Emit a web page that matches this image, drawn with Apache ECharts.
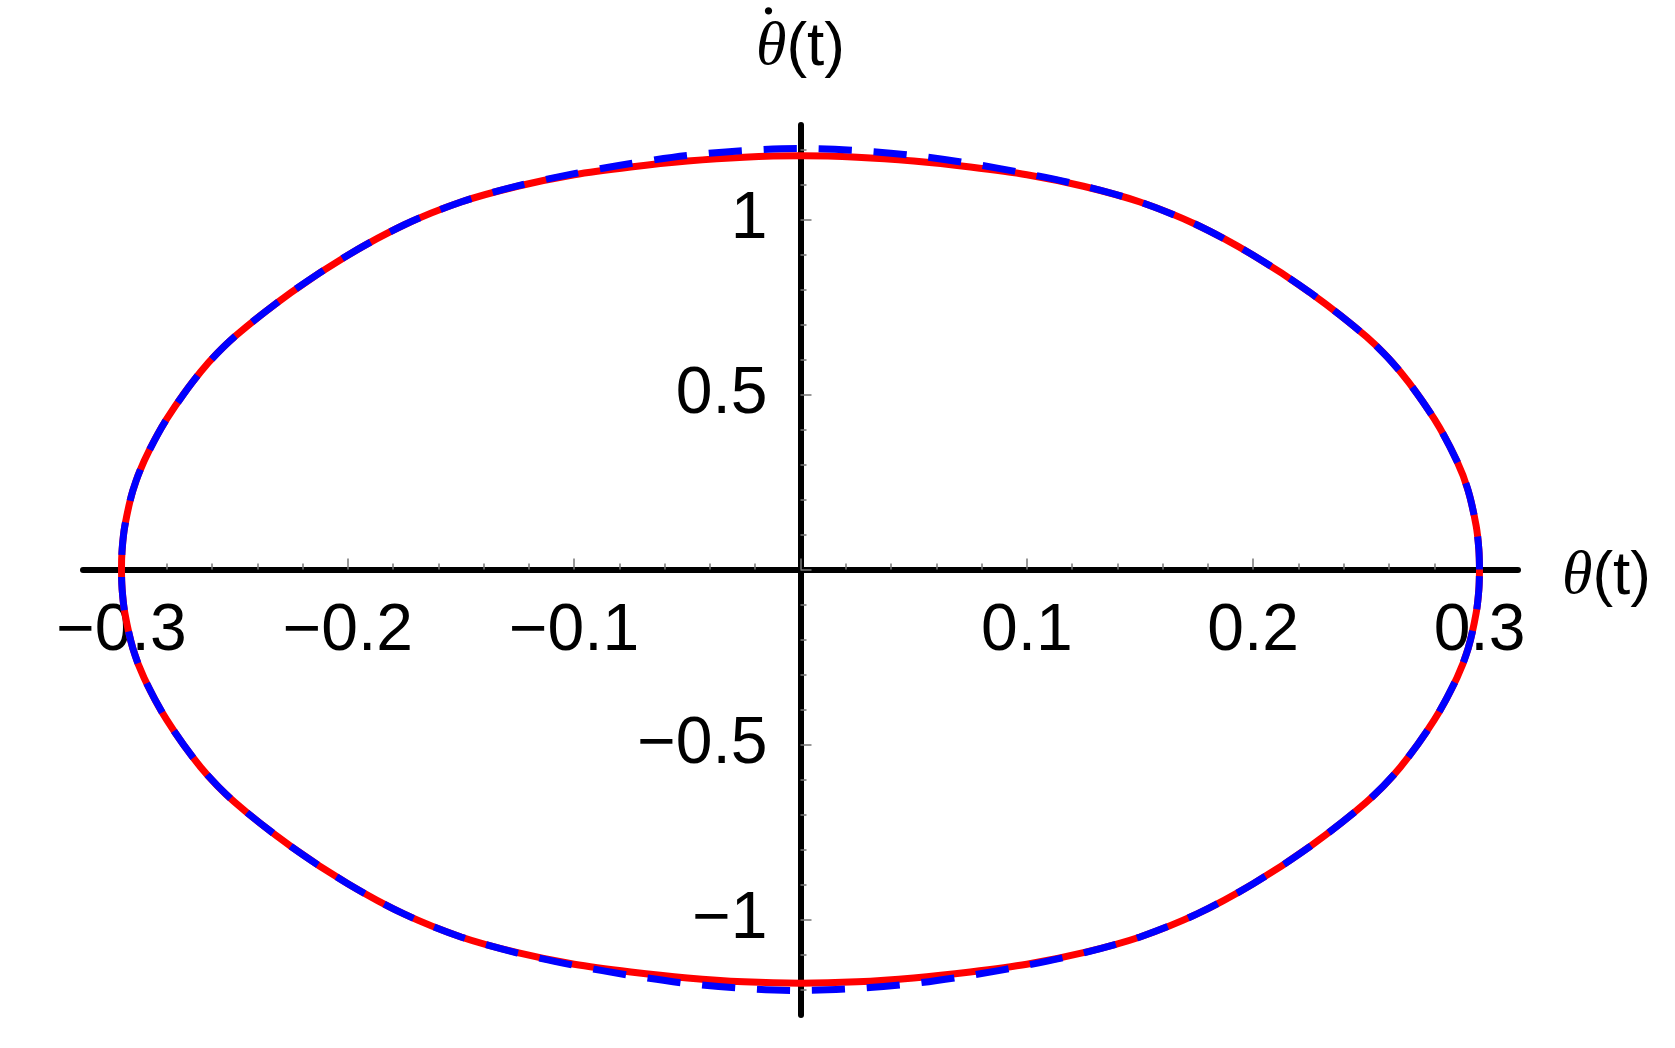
<!DOCTYPE html>
<html>
<head>
<meta charset="utf-8">
<title>phase portrait</title>
<script src="https://cdn.jsdelivr.net/npm/echarts@6/dist/echarts.min.js"></script>
<style>
  html, body { margin: 0; padding: 0; background: #fff; }
  #chart { width: 1675px; height: 1048px; }
</style>
</head>
<body>
<div id="chart"></div>
<script>
// upper right quarter of the orbit (the plot is symmetric)
const thetaPts = [0, 0.025, 0.05, 0.075, 0.1, 0.125, 0.15, 0.175, 0.2, 0.225, 0.25, 0.265, 0.28, 0.29, 0.295, 0.2985, 0.2997, 0.3];
const redDot   = [1.182, 1.178, 1.167, 1.150, 1.128, 1.095, 1.050, 0.985, 0.898, 0.792, 0.665, 0.565, 0.430, 0.310, 0.225, 0.125, 0.058, 0];
const blueDot  = [1.203, 1.197, 1.183, 1.160, 1.131, 1.096, 1.050, 0.985, 0.898, 0.792, 0.665, 0.565, 0.430, 0.310, 0.225, 0.125, 0.058, 0];

// ticks
const xTickLabels = [-0.3, -0.2, -0.1, 0.1, 0.2, 0.3];
const xMajorTicks = [-0.3, -0.2, -0.1, 0, 0.1, 0.2, 0.3];
const xMinorTicks = [-0.28, -0.26, -0.24, -0.22, -0.18, -0.16, -0.14, -0.12, -0.08, -0.06, -0.04, -0.02,
                     0.02, 0.04, 0.06, 0.08, 0.12, 0.14, 0.16, 0.18, 0.22, 0.24, 0.26, 0.28];
const yTickLabels = [-1, -0.5, 0.5, 1];
const yMajorTicks = [-1, -0.5, 0, 0.5, 1];
const yMinorTicks = [-1.2, -1.1, -0.9, -0.8, -0.7, -0.6, -0.4, -0.3, -0.2, -0.1,
                     0.1, 0.2, 0.3, 0.4, 0.6, 0.7, 0.8, 0.9, 1.1, 1.2];

const X_MIN = -0.317, X_MAX = 0.317;
const Y_MIN = -1.273, Y_MAX = 1.27;

// closed loop from the quarter: right tip -> top -> left tip -> bottom -> right tip
const buildLoop = (xs, ys) => {
  const n = xs.length;
  const pts = [];
  for (let i = n - 1; i >= 0; i--) pts.push([xs[i], ys[i]]);
  for (let i = 1; i < n; i++) pts.push([-xs[i], ys[i]]);
  for (let i = n - 2; i >= 0; i--) pts.push([-xs[i], -ys[i]]);
  for (let i = 1; i < n; i++) pts.push([xs[i], -ys[i]]);
  return pts;
};

const fmt = v => (v < 0 ? '\u2212' : '') + String(Math.abs(v));

const SANS = '"Liberation Sans", Arial, sans-serif';
const SERIF = '"Liberation Serif", "Times New Roman", serif';
const labelFont = { color: '#000', fontSize: 66, fontFamily: SANS };
const tickStyle = { color: '#777', width: 1.5 };

const chart = echarts.init(document.getElementById('chart'), null, { renderer: 'canvas' });

// axes cross at the origin; the plot box is fixed, so shift the axis lines onto zero
const grid = { left: 83, right: 157, top: 125, bottom: 33 };
const plotW = 1675 - grid.left - grid.right;
const plotH = 1048 - grid.top - grid.bottom;
const xAxisOffset = -plotH * Y_MIN / (Y_MIN - Y_MAX);        // negative: up from the bottom edge
const yAxisOffset = -plotW * (0 - X_MIN) / (X_MAX - X_MIN);   // negative: right from the left edge

const option = {
  backgroundColor: '#fff',
  animation: false,
  grid: { ...grid, containLabel: false, outerBoundsMode: 'none' },
  xAxis: [
    {
      type: 'value',
      min: X_MIN,
      max: X_MAX,
      position: 'bottom',
      offset: xAxisOffset,
      axisLine: { onZero: false, lineStyle: { color: '#000', width: 6 } },
      axisTick: { inside: true, length: 11, lineStyle: tickStyle, customValues: xMajorTicks },
      axisLabel: {
        ...labelFont,
        margin: 62,
        verticalAlign: 'middle',
        customValues: xTickLabels,
        formatter: fmt
      },
      splitLine: { show: false },
      name: '{i|\u03b8}(t)',
      nameLocation: 'end',
      nameGap: 44,
      nameTextStyle: {
        ...labelFont,
        fontSize: 62,
        align: 'left',
        verticalAlign: 'middle',
        padding: [14, 0, 0, 0],
        rich: {
          i: { fontSize: 62, fontStyle: 'italic', fontFamily: SERIF, color: '#000' }
        }
      }
    },
    {
      type: 'value',
      min: X_MIN,
      max: X_MAX,
      position: 'bottom',
      offset: xAxisOffset,
      axisLine: { show: false, onZero: false },
      axisTick: { inside: true, length: 6, lineStyle: tickStyle, customValues: xMinorTicks },
      axisLabel: { show: false },
      splitLine: { show: false }
    }
  ],
  yAxis: [
    {
      type: 'value',
      min: Y_MIN,
      max: Y_MAX,
      position: 'left',
      offset: yAxisOffset,
      axisLine: { onZero: false, lineStyle: { color: '#000', width: 6 } },
      axisTick: { inside: true, length: 11, lineStyle: tickStyle, customValues: yMajorTicks },
      axisLabel: {
        ...labelFont,
        margin: 33,
        align: 'right',
        verticalAlign: 'middle',
        customValues: yTickLabels,
        formatter: fmt
      },
      splitLine: { show: false },
      // time derivative: a dot over theta, set as its own short line above
      name: '{d|.}{g| }\n{i|\u03b8}{p|(t)}',
      nameLocation: 'end',
      nameGap: 96,
      nameTextStyle: {
        ...labelFont,
        fontSize: 62,
        lineHeight: 62,
        align: 'center',
        verticalAlign: 'middle',
        rich: {
          d: { fontSize: 62, lineHeight: 38, fontFamily: SERIF, color: '#000' },
          g: { fontSize: 62, lineHeight: 38, width: 64, fontFamily: SANS },
          i: { fontSize: 62, lineHeight: 62, fontStyle: 'italic', fontFamily: SERIF, color: '#000' },
          p: { fontSize: 62, lineHeight: 62, fontFamily: SANS, color: '#000' }
        }
      }
    },
    {
      type: 'value',
      min: Y_MIN,
      max: Y_MAX,
      position: 'left',
      offset: yAxisOffset,
      axisLine: { show: false, onZero: false },
      axisTick: { inside: true, length: 6, lineStyle: tickStyle, customValues: yMinorTicks },
      axisLabel: { show: false },
      splitLine: { show: false }
    }
  ],
  series: [
    {
      name: 'exact',
      type: 'line',
      xAxisIndex: 0,
      yAxisIndex: 0,
      data: buildLoop(thetaPts, redDot),
      showSymbol: false,
      smooth: 0.3,
      z: 3,
      lineStyle: { color: '#ff0000', width: 7 }
    },
    {
      name: 'approx',
      type: 'line',
      xAxisIndex: 0,
      yAxisIndex: 0,
      data: buildLoop(thetaPts, blueDot),
      showSymbol: false,
      smooth: 0.3,
      z: 4,
      lineStyle: { color: '#0000ff', width: 7, type: [33, 22], cap: 'butt' }
    }
  ]
};

chart.setOption(option);
</script>
</body>
</html>
